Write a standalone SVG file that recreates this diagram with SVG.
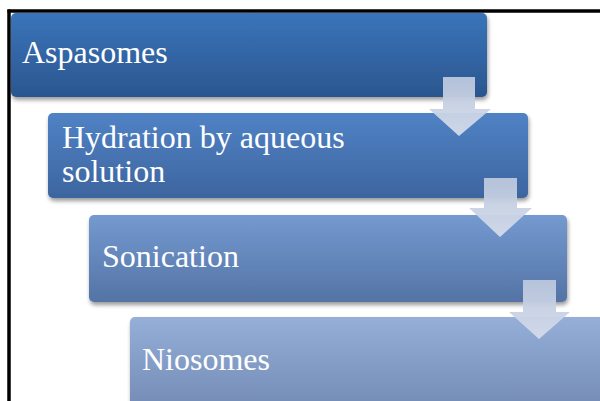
<svg xmlns="http://www.w3.org/2000/svg" width="600" height="401" viewBox="0 0 600 401">
  <defs>
    <linearGradient id="g1" x1="0" y1="0" x2="0" y2="1">
      <stop offset="0" stop-color="#3a74ba"/>
      <stop offset="1" stop-color="#2b568f"/>
    </linearGradient>
    <linearGradient id="g2" x1="0" y1="0" x2="0" y2="1">
      <stop offset="0" stop-color="#5082c5"/>
      <stop offset="1" stop-color="#3d659f"/>
    </linearGradient>
    <linearGradient id="g3" x1="0" y1="0" x2="0" y2="1">
      <stop offset="0" stop-color="#749ad1"/>
      <stop offset="1" stop-color="#5473a5"/>
    </linearGradient>
    <linearGradient id="g4" x1="0" y1="0" x2="0" y2="1">
      <stop offset="0" stop-color="#95afd9"/>
      <stop offset="1" stop-color="#728ab4"/>
    </linearGradient>
    <linearGradient id="ga" x1="0" y1="0" x2="0" y2="1">
      <stop offset="0" stop-color="#bac7dd"/>
      <stop offset="1" stop-color="#d5dcea"/>
    </linearGradient>
    <filter id="sh" x="-5%" y="-10%" width="110%" height="130%">
      <feGaussianBlur in="SourceAlpha" stdDeviation="2"/>
      <feOffset dx="1" dy="3" result="b"/>
      <feComponentTransfer><feFuncA type="linear" slope="0.4"/></feComponentTransfer>
      <feMerge><feMergeNode/><feMergeNode in="SourceGraphic"/></feMerge>
    </filter>
    <style>
      .lbl { font-family: "Liberation Serif", "Times New Roman", serif; font-size: 32px; fill: #ffffff; }
      .arr { fill: url(#ga); opacity: 0.95; }
    </style>
  </defs>
  <rect x="0" y="0" width="600" height="401" fill="#ffffff"/>

  <g id="node-aspasomes">
    <rect x="11" y="13" width="476" height="84" rx="5" fill="url(#g1)" filter="url(#sh)"/>
    <text class="lbl" x="22" y="63">Aspasomes</text>
  </g>
  <g id="node-hydration">
    <rect x="48" y="113" width="480" height="85" rx="5" fill="url(#g2)" filter="url(#sh)"/>
    <text class="lbl" x="62" y="148">Hydration by aqueous</text>
    <text class="lbl" x="62" y="182">solution</text>
  </g>
  <g id="node-sonication">
    <rect x="89" y="215" width="478" height="87" rx="5" fill="url(#g3)" filter="url(#sh)"/>
    <text class="lbl" x="102" y="267">Sonication</text>
  </g>
  <g id="node-niosomes">
    <rect x="130" y="317" width="480" height="95" rx="5" fill="url(#g4)" filter="url(#sh)"/>
    <text class="lbl" x="142" y="370">Niosomes</text>
  </g>

  <g id="connectors">
    <polygon class="arr" points="443,77 475,77 475,109 491,109 459,136 429,109 443,109"/>
    <polygon class="arr" points="484,178 517,178 517,208 532,208 500,237 469,208 484,208"/>
    <polygon class="arr" points="523,280 556,280 556,312 570,312 539,339 509,312 523,312"/>
  </g>

  <g id="frame">
    <line x1="7.5" y1="11" x2="600" y2="11" stroke="#000" stroke-width="3.5"/>
    <line x1="9" y1="9.5" x2="9" y2="401" stroke="#000" stroke-width="3.5"/>
  </g>
</svg>
